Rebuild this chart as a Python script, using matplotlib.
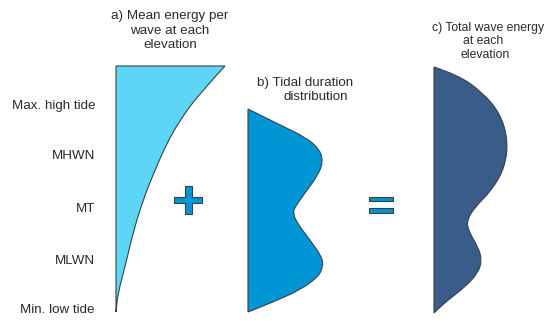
import numpy as np
import matplotlib.pyplot as plt
from matplotlib.path import Path
from matplotlib.patches import PathPatch, Polygon, Rectangle

plt.rcParams['font.family'] = ['Liberation Sans', 'DejaVu Sans']

# elevation labels (left side)
levels = ["Max. high tide", "MHWN", "MT", "MLWN", "Min. low tide"]
level_y = [109, 159, 212.5, 264, 313]

# a) mean energy per wave: right edge (x, y) from top to bottom
a_x = [225, 200, 180, 167, 155, 143, 133, 125, 118, 116]
a_y = [66, 93, 120, 143, 170, 200, 233, 267, 293, 312]
a_base = 116

# b) tidal duration distribution profile
b_x = [248, 280, 307, 320, 323, 318, 305, 295, 293, 297, 310, 322, 323, 318, 300, 273, 248]
b_y = [109, 125, 138, 150, 162, 175, 193, 207, 213, 223, 240, 257, 267, 277, 290, 302, 312]
b_base = 248

# c) total wave energy profile
c_x = [434, 458, 482, 500, 508, 505, 492, 475, 467, 468, 478, 482, 478, 465, 448, 437, 434]
c_y = [67, 75, 92, 113, 140, 167, 190, 207, 220, 230, 247, 260, 273, 287, 300, 310, 313]
c_base = 434

col_a = "#5dd6f6"
col_b = "#0096d6"
col_c = "#3a5c89"
edge = "#3a3f44"
txt = "#2a2a2a"
fs = 9.6


def shape(ax, xs, ys, x0, color):
    pts = list(zip(xs, ys))
    verts = [(x0, ys[-1]), (x0, ys[0]), pts[0]]
    codes = [Path.MOVETO, Path.LINETO, Path.LINETO]
    for i in range(1, len(pts) - 1):
        mid = ((pts[i][0] + pts[i + 1][0]) / 2, (pts[i][1] + pts[i + 1][1]) / 2)
        verts += [pts[i], mid]
        codes += [Path.CURVE3, Path.CURVE3]
    verts += [pts[-1], (x0, ys[-1])]
    codes += [Path.LINETO, Path.CLOSEPOLY]
    ax.add_patch(PathPatch(Path(verts, codes), facecolor=color, edgecolor=edge, lw=0.8))


fig = plt.figure(figsize=(5.5, 3.21), dpi=100)
ax = fig.add_axes([0, 0, 1, 1])
ax.set_xlim(0, 550)
ax.set_ylim(321, 0)
ax.axis("off")

shape(ax, a_x, a_y, a_base, col_a)
shape(ax, b_x, b_y, b_base, col_b)
shape(ax, c_x, c_y, c_base, col_c)

for lab, y in zip(levels, level_y):
    ax.text(95, y, lab, ha="right", va="baseline", fontsize=fs, color=txt)

# plus sign
cx, cy, h, t = 188.3, 200, 14, 3.3
plus = [(cx - t, cy - h), (cx + t, cy - h), (cx + t, cy - t), (cx + h, cy - t),
        (cx + h, cy + t), (cx + t, cy + t), (cx + t, cy + h), (cx - t, cy + h),
        (cx - t, cy + t), (cx - h, cy + t), (cx - h, cy - t), (cx - t, cy - t)]
ax.add_patch(Polygon(plus, closed=True, facecolor=col_b, edgecolor=edge, lw=0.8))

# equals sign
for y0 in (196.7, 208.3):
    ax.add_patch(Rectangle((369.3, y0), 23.4, 4.6, facecolor=col_b, edgecolor=edge, lw=0.8))

ax.text(170, 19, "a) Mean energy per", ha="center", va="baseline", fontsize=fs, color=txt)
ax.text(170, 33.5, "wave at each", ha="center", va="baseline", fontsize=fs, color=txt)
ax.text(170, 48, "elevation", ha="center", va="baseline", fontsize=fs, color=txt)

ax.text(305, 86, "b) Tidal duration", ha="center", va="baseline", fontsize=fs, color=txt)
ax.text(316, 100.5, "distribution", ha="center", va="baseline", fontsize=fs, color=txt)

ax.text(488, 30.5, "c) Total wave energy", ha="center", va="baseline", fontsize=8.8, color=txt)
ax.text(483, 44, "at each", ha="center", va="baseline", fontsize=8.8, color=txt)
ax.text(485, 57.5, "elevation", ha="center", va="baseline", fontsize=8.8, color=txt)

fig.savefig("out.png", dpi=100, facecolor="white")
